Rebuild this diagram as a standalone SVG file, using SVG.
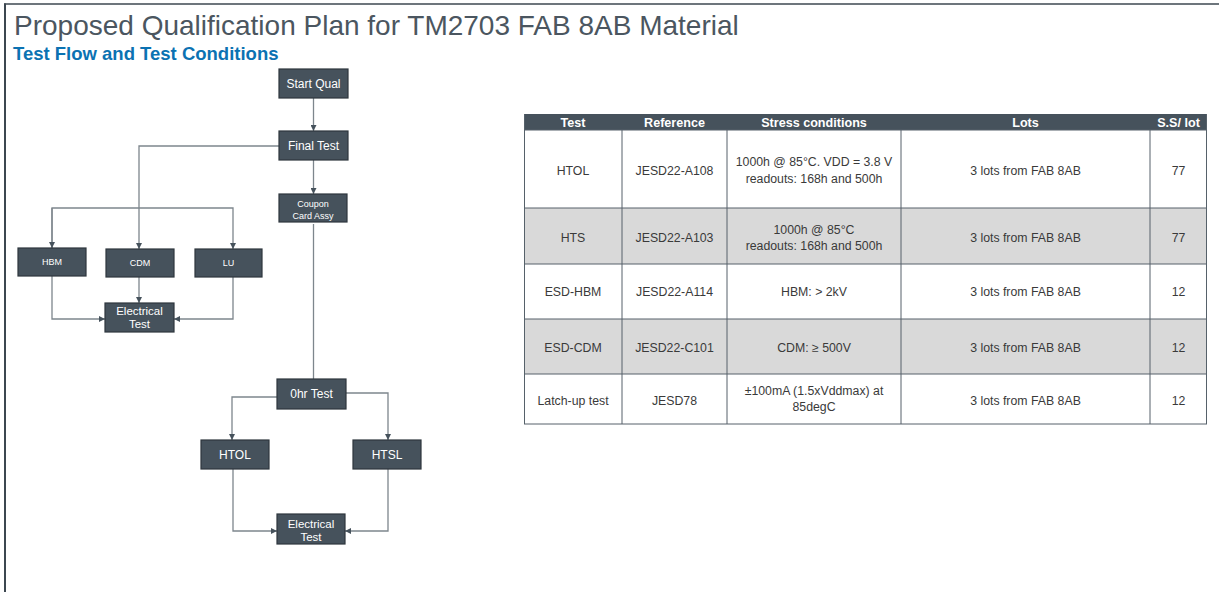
<svg xmlns="http://www.w3.org/2000/svg" width="1219" height="592" viewBox="0 0 1219 592">
<defs>
<style>
.node rect{fill:#46525c;stroke:#2e363d;stroke-width:1.2}
.node text{fill:#ffffff;font-family:"Liberation Sans",Arial,sans-serif;text-anchor:middle}
.conn{fill:none;stroke:#7d868d;stroke-width:1.3}
.cell{font-family:"Liberation Sans",Arial,sans-serif;font-size:12.3px;fill:#3a3a3a;text-anchor:middle}
.hdr{font-family:"Liberation Sans",Arial,sans-serif;font-size:12.6px;font-weight:bold;fill:#ffffff;text-anchor:middle}
.grid{stroke:#56616a;stroke-width:1;fill:none}
</style>
<marker id="ah" viewBox="0 0 10 10" refX="10" refY="5" markerWidth="6" markerHeight="6" markerUnits="userSpaceOnUse" orient="auto">
<path d="M0,0 L10,5 L0,10 z" fill="#46525c"/>
</marker>
</defs>
<rect width="1219" height="592" fill="#ffffff"/>
<g id="frame">
<line x1="4" y1="4" x2="1219" y2="4" stroke="#3c4750" stroke-width="1.6"/>
<line x1="5" y1="3.5" x2="5" y2="592" stroke="#3c4750" stroke-width="2"/>
</g>
<g id="title">
<text x="14" y="35" font-family="'Liberation Sans',Arial,sans-serif" font-size="28" fill="#4b5660">Proposed Qualification Plan for TM2703 FAB 8AB Material</text>
<text x="13" y="60" font-family="'Liberation Sans',Arial,sans-serif" font-size="18.5" font-weight="bold" fill="#0b72b2">Test Flow and Test Conditions</text>
</g>
<g id="connectors">
<path class="conn" d="M313.5,98 V131" marker-end="url(#ah)"/>
<path class="conn" d="M279,146 H139 V249" marker-end="url(#ah)"/>
<path class="conn" d="M313.5,160 V194" marker-end="url(#ah)"/>
<path class="conn" d="M52,248 V208 H233 V249" marker-end="url(#ah)"/>
<path class="conn" d="M52,208 V248" marker-end="url(#ah)"/>
<path class="conn" d="M52,276 V319 H105" marker-end="url(#ah)"/>
<path class="conn" d="M139,277 V303" marker-end="url(#ah)"/>
<path class="conn" d="M233,277 V319 H174" marker-end="url(#ah)"/>
<path class="conn" d="M313.5,224 V379"/>
<path class="conn" d="M277,397 H232 V440" marker-end="url(#ah)"/>
<path class="conn" d="M346,393 H388 V440" marker-end="url(#ah)"/>
<path class="conn" d="M233,469 V531 H277" marker-end="url(#ah)"/>
<path class="conn" d="M388,469 V531 H345" marker-end="url(#ah)"/>
</g>
<g id="n-start" class="node"><rect x="279" y="69" width="69" height="29"/><text x="313.5" y="87.5" font-size="12">Start Qual</text></g>
<g id="n-final" class="node"><rect x="279" y="131" width="69" height="29"/><text x="313.5" y="149.5" font-size="12">Final Test</text></g>
<g id="n-coupon" class="node"><rect x="279" y="194" width="68" height="28"/><text x="313" y="206.5" font-size="9">Coupon</text><text x="313" y="218.5" font-size="9">Card Assy</text></g>
<g id="n-hbm" class="node"><rect x="18" y="248" width="68" height="28"/><text x="52" y="265" font-size="9">HBM</text></g>
<g id="n-cdm" class="node"><rect x="106" y="249" width="68" height="28"/><text x="140" y="266" font-size="9">CDM</text></g>
<g id="n-lu" class="node"><rect x="195" y="249" width="67" height="28"/><text x="228.5" y="266" font-size="9">LU</text></g>
<g id="n-elec1" class="node"><rect x="105" y="303" width="69" height="29"/><text x="139.5" y="314.7" font-size="11.5">Electrical</text><text x="139.5" y="328" font-size="11.5">Test</text></g>
<g id="n-0hr" class="node"><rect x="277" y="379" width="69" height="30"/><text x="311.5" y="398.2" font-size="12">0hr Test</text></g>
<g id="n-htol" class="node"><rect x="201" y="440" width="68" height="29"/><text x="235" y="458.7" font-size="12">HTOL</text></g>
<g id="n-htsl" class="node"><rect x="353" y="440" width="68" height="29"/><text x="387" y="458.7" font-size="12">HTSL</text></g>
<g id="n-elec2" class="node"><rect x="277" y="514" width="68" height="30"/><text x="311" y="527.5" font-size="11.5">Electrical</text><text x="311" y="540.8" font-size="11.5">Test</text></g>
<g id="table">
<rect x="524" y="114" width="683" height="16" fill="#46525c"/>
<rect x="524" y="208" width="683" height="56" fill="#d9d9d9"/>
<rect x="524" y="319" width="683" height="55" fill="#d9d9d9"/>
<path class="grid" d="M524,130 H1207 M524,208 H1207 M524,264 H1207 M524,319 H1207 M524,374 H1207 M524,424 H1207"/>
<path class="grid" d="M524.5,114 V424 M1206.5,114 V424 M622,130 V424 M727,130 V424 M901,130 V424 M1150,130 V424"/>
<text class="hdr" x="573" y="127">Test</text>
<text class="hdr" x="674.5" y="127">Reference</text>
<text class="hdr" x="814" y="127">Stress conditions</text>
<text class="hdr" x="1025.5" y="127">Lots</text>
<text class="hdr" x="1178.5" y="127">S.S/ lot</text>
<text class="cell" x="573" y="175">HTOL</text>
<text class="cell" x="674.5" y="175">JESD22-A108</text>
<text class="cell" x="814" y="166">1000h @ 85°C. VDD = 3.8 V</text>
<text class="cell" x="814" y="183">readouts: 168h and 500h</text>
<text class="cell" x="1025.5" y="175">3 lots from FAB 8AB</text>
<text class="cell" x="1178.5" y="175">77</text>
<text class="cell" x="573" y="242">HTS</text>
<text class="cell" x="674.5" y="242">JESD22-A103</text>
<text class="cell" x="814" y="234">1000h @ 85°C</text>
<text class="cell" x="814" y="249.5">readouts: 168h and 500h</text>
<text class="cell" x="1025.5" y="242">3 lots from FAB 8AB</text>
<text class="cell" x="1178.5" y="242">77</text>
<text class="cell" x="573" y="296">ESD-HBM</text>
<text class="cell" x="674.5" y="296">JESD22-A114</text>
<text class="cell" x="814" y="296">HBM: &gt; 2kV</text>
<text class="cell" x="1025.5" y="296">3 lots from FAB 8AB</text>
<text class="cell" x="1178.5" y="296">12</text>
<text class="cell" x="573" y="352">ESD-CDM</text>
<text class="cell" x="674.5" y="352">JESD22-C101</text>
<text class="cell" x="814" y="352">CDM: ≥ 500V</text>
<text class="cell" x="1025.5" y="352">3 lots from FAB 8AB</text>
<text class="cell" x="1178.5" y="352">12</text>
<text class="cell" x="573" y="405">Latch-up test</text>
<text class="cell" x="674.5" y="405">JESD78</text>
<text class="cell" x="814" y="395">±100mA (1.5xVddmax) at</text>
<text class="cell" x="814" y="411">85degC</text>
<text class="cell" x="1025.5" y="405">3 lots from FAB 8AB</text>
<text class="cell" x="1178.5" y="405">12</text>
</g>
</svg>
